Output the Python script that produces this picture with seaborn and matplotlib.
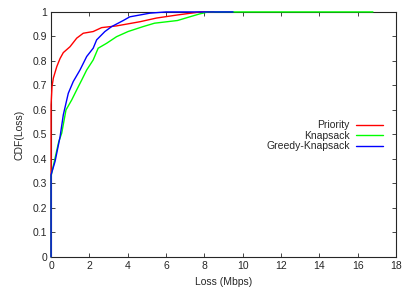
import numpy as np
import pandas as pd
import matplotlib
matplotlib.use("Agg")
import matplotlib.pyplot as plt
import seaborn as sns

# CDF points (x = loss in Mbps, y = CDF)
priority_x = [0, 0, 0.05, 0.12, 0.3, 0.47, 0.64, 0.99, 1.34, 1.68, 2.2, 2.64, 3.42, 4.64, 5.5, 6.63, 7.8, 8.5]
priority_y = [0, 0.62, 0.695, 0.73, 0.777, 0.81, 0.834, 0.858, 0.893, 0.913, 0.92, 0.936, 0.943, 0.96, 0.975, 0.988, 1.0, 1.0]

knapsack_x = [0, 0, 0.2, 0.4, 0.556, 0.78, 1.08, 1.34, 1.6, 1.86, 2.2, 2.46, 2.9, 3.42, 4.02, 4.8, 5.4, 6.6, 7.24, 7.76, 8.2, 16.8]
knapsack_y = [0, 0.33, 0.4, 0.47, 0.505, 0.6, 0.641, 0.682, 0.722, 0.763, 0.804, 0.852, 0.872, 0.899, 0.92, 0.94, 0.954, 0.965, 0.98, 0.992, 1.0, 1.0]

greedy_x = [0, 0, 0.21, 0.47, 0.64, 0.9, 1.16, 1.51, 1.86, 2.2, 2.38, 2.81, 3.16, 3.77, 4.11, 5.16, 6.0, 9.5]
greedy_y = [0, 0.335, 0.39, 0.49, 0.58, 0.668, 0.716, 0.763, 0.818, 0.852, 0.886, 0.92, 0.94, 0.965, 0.98, 0.995, 1.0, 1.0]

series_names = ["Priority", "Knapsack", "Greedy-Knapsack"]
series_colors = ["#ff0000", "#00ff00", "#0000ff"]
x_ticks = list(range(0, 19, 2))
y_ticks = [round(v * 0.1, 1) for v in range(11)]

frames = []
for name, xs, ys in zip(series_names,
                        [priority_x, knapsack_x, greedy_x],
                        [priority_y, knapsack_y, greedy_y]):
    frames.append(pd.DataFrame({"loss": xs, "cdf": ys, "method": name}))
df = pd.concat(frames, ignore_index=True)

sns.set_style("ticks")
plt.rcParams['font.family'] = ['Liberation Sans', 'DejaVu Sans']
plt.rcParams['font.size'] = 7.5

fig = plt.figure(figsize=(4.15, 2.91), dpi=100)
ax = fig.add_axes([0.123, 0.117, 0.831, 0.842])

sns.lineplot(data=df, x="loss", y="cdf", hue="method", hue_order=series_names,
             palette=series_colors, sort=False, estimator=None,
             linewidth=1.0, ax=ax)
for ln in ax.get_lines():
    ln.set_clip_on(False)
    ln.set_zorder(3)

ax.set_xlim(0, 18)
ax.set_ylim(0, 1)
ax.set_xticks(x_ticks)
ax.set_xticklabels([str(t) for t in x_ticks])
ax.set_yticks(y_ticks)
ax.set_yticklabels(["0" if v == 0 else ("1" if v == 1 else f"{v:g}") for v in y_ticks])
ax.set_xlabel("Loss (Mbps)", fontsize=7.5, labelpad=4)
ax.set_ylabel("CDF(Loss)", fontsize=7.5, labelpad=6)

for s in ax.spines.values():
    s.set_visible(True)
    s.set_linewidth(0.8)
    s.set_zorder(2)
ax.tick_params(direction="in", length=3, width=0.6, top=True, right=True, labelsize=7.5, pad=3)

leg = ax.legend(loc="upper right", bbox_to_anchor=(0.975, 0.575), frameon=False,
                markerfirst=False, handlelength=2.6, handletextpad=0.6,
                labelspacing=0.05, fontsize=7.5, borderaxespad=0)

fig.savefig("out.png", dpi=100)
